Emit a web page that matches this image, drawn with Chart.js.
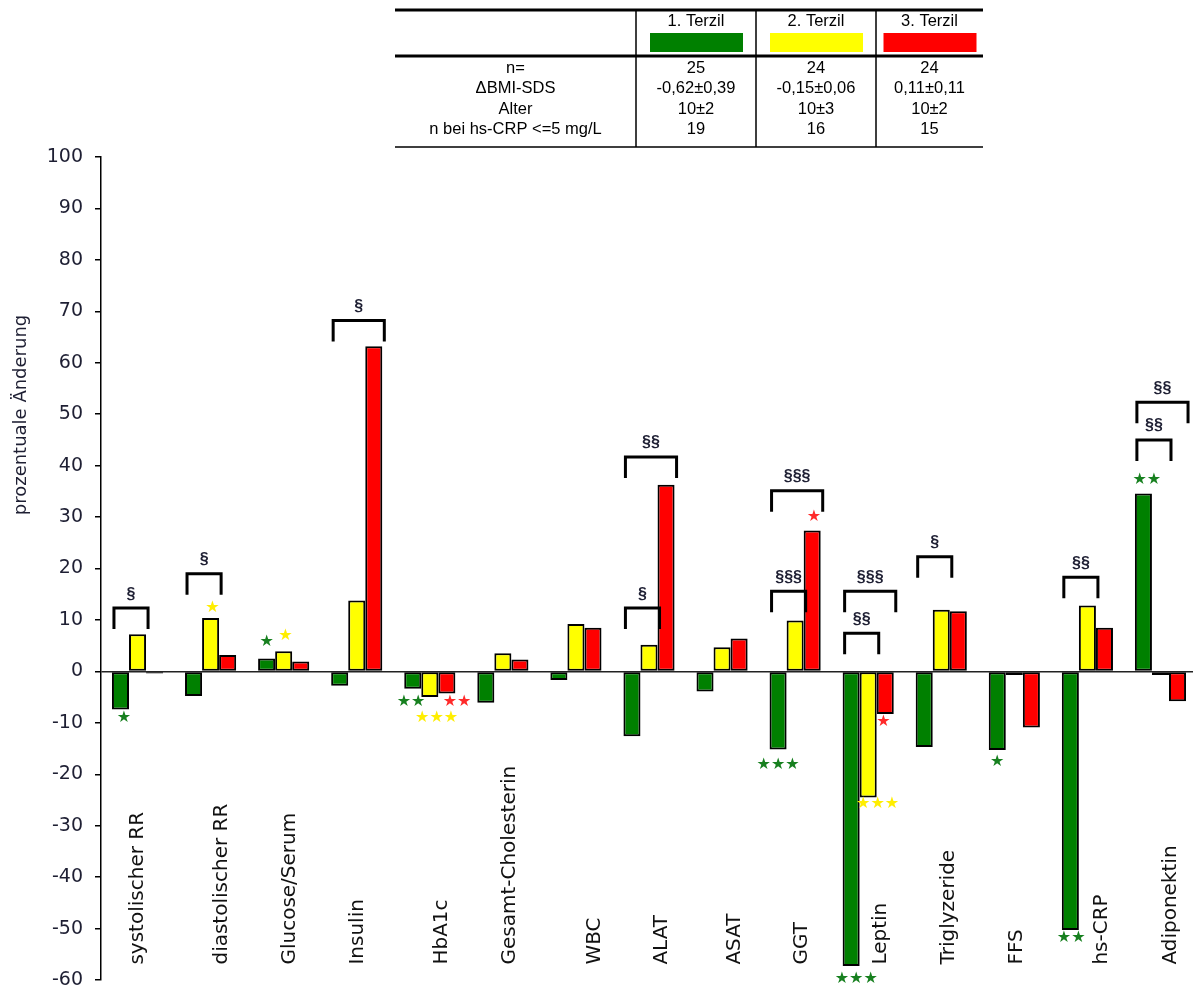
<!DOCTYPE html>
<html>
<head>
<meta charset="utf-8">
<script src="https://cdn.jsdelivr.net/npm/chart.js@4"></script>
<style>
  html, body { margin: 0; padding: 0; background: #fff; overflow: hidden; }
  #wrap { position: absolute; left: 0; top: 0; width: 1200px; height: 992px; }
</style>
</head>
<body>
<div id="wrap"><canvas id="myChart" width="1200" height="992"></canvas></div>
<script>
// Parameters shown on the x axis
const labels = ["systolischer RR", "diastolischer RR", "Glucose/Serum", "Insulin", "HbA1c",
  "Gesamt-Cholesterin", "WBC", "ALAT", "ASAT", "GGT", "Leptin", "Triglyzeride", "FFS",
  "hs-CRP", "Adiponektin"];

// percent change per tertile
const tertile1 = [-7.4, -4.8, 2.5, -2.8, -3.4, -6.1, -1.7, -12.6, -3.9, -15.2, -57.3, -14.7, -15.3, -50.3, 34.6];
const tertile2 = [7.2, 10.4, 3.9, 13.8, -5.0, 3.5, 9.2, 5.2, 4.7, 9.9, -24.5, 12.0, -0.7, 12.8, -0.7];
const tertile3 = [-0.4, 3.2, 1.9, 63.2, -4.3, 2.3, 8.5, 36.3, 6.4, 27.4, -8.3, 11.7, -10.9, 8.5, -5.8];

const seriesNames = ["1. Terzil", "2. Terzil", "3. Terzil"];
const yTicks = [100, 90, 80, 70, 60, 50, 40, 30, 20, 10, 0, -10, -20, -30, -40, -50, -60];

// table above the chart
const tableRows = [
  ["n=", "25", "24", "24"],
  ["\u0394BMI-SDS", "-0,62\u00b10,39", "-0,15\u00b10,06", "0,11\u00b10,11"],
  ["Alter", "10\u00b12", "10\u00b13", "10\u00b12"],
  ["n bei hs-CRP <=5 mg/L", "19", "16", "15"]
];

// significance between tertiles: [category, from series, to series, bracket top value, text]
const brackets = [
  [0, 0, 1, 12.3, "\u00a7"],
  [1, 0, 1, 19.0, "\u00a7"],
  [3, 0, 2, 68.2, "\u00a7"],
  [7, 0, 1, 12.3, "\u00a7"],
  [7, 0, 2, 41.7, "\u00a7\u00a7"],
  [9, 0, 1, 15.6, "\u00a7\u00a7\u00a7"],
  [9, 0, 2, 35.1, "\u00a7\u00a7\u00a7"],
  [10, 0, 1, 7.4, "\u00a7\u00a7"],
  [10, 0, 2, 15.6, "\u00a7\u00a7\u00a7"],
  [11, 0, 1, 22.3, "\u00a7"],
  [13, 0, 1, 18.3, "\u00a7\u00a7"],
  [14, 0, 1, 45.0, "\u00a7\u00a7"],
  [14, 0, 2, 52.3, "\u00a7\u00a7"]
];

// significance vs. baseline: [category, series, slot, value, stars]
const stars = [
  [0, 0, 0.2, -9.1, 1],
  [1, 1, 1.1, 12.3, 1],
  [2, 0, 0.0, 5.7, 1],
  [2, 1, 1.1, 7.0, 1],
  [4, 0, -0.1, -6.0, 2],
  [4, 1, 1.4, -9.1, 3],
  [4, 2, 2.6, -6.0, 2],
  [9, 0, 0.0, -18.1, 3],
  [9, 2, 2.1, 30.0, 1],
  [10, 0, 0.3, -59.8, 3],
  [10, 1, 1.55, -25.8, 3],
  [10, 2, 1.9, -9.9, 1],
  [12, 0, 0.0, -17.5, 1],
  [13, 0, 0.05, -51.8, 2],
  [14, 0, 0.2, 37.3, 2]
];

const barColors = ["#008000", "#ffff00", "#ff0000"];
const starColors = ["#17801f", "#ffee00", "#ff2a2a"];
// small nudges for the rotated category names (px)
const labelShift = [0, 11, 6, 1, 12, 7, 19, 13, 13, 7, 13, 8, 2, 14, 10];

const textColor = "#1e1f33";

// Draws the table, brackets, stars and the rotated category names
const extras = {
  id: "extras",
  afterDraw(chart) {
    const ctx = chart.ctx;
    const x = chart.scales.x;
    const y = chart.scales.y;
    const catW = x.getPixelForValue(1) - x.getPixelForValue(0);
    const barW = catW * 0.7 / 3;
    const slotX = (cat, slot) => x.getPixelForValue(cat) + (slot - 1) * barW;

    ctx.save();

    // y axis title
    ctx.save();
    ctx.translate(21, 415);
    ctx.rotate(-Math.PI / 2);
    ctx.font = "18px 'DejaVu Sans'";
    ctx.fillStyle = textColor;
    ctx.textAlign = "center";
    ctx.textBaseline = "middle";
    ctx.fillText("prozentuale \u00c4nderung", 0, 0);
    ctx.restore();

    // category names, rotated, bottom aligned
    const yBottom = y.getPixelForValue(-57);
    ctx.font = "20px 'DejaVu Sans'";
    ctx.fillStyle = "#111";
    labels.forEach((lab, i) => {
      ctx.save();
      ctx.translate(x.getPixelForValue(i) + labelShift[i], yBottom);
      ctx.rotate(-Math.PI / 2);
      ctx.textAlign = "left";
      ctx.textBaseline = "middle";
      ctx.fillText(lab, 0, 0);
      ctx.restore();
    });

    // brackets with § marks
    ctx.strokeStyle = "#000";
    ctx.lineWidth = 3;
    ctx.font = "bold 16px 'Liberation Sans'";
    ctx.fillStyle = textColor;
    ctx.textAlign = "center";
    ctx.textBaseline = "middle";
    brackets.forEach(([cat, a, b, top, txt]) => {
      const left = slotX(cat, a) - barW / 2 + 2;
      const right = slotX(cat, b) + barW / 2 + 2;
      const ty = y.getPixelForValue(top);
      ctx.beginPath();
      ctx.moveTo(left, ty + 21);
      ctx.lineTo(left, ty);
      ctx.lineTo(right, ty);
      ctx.lineTo(right, ty + 21);
      ctx.stroke();
      ctx.fillText(txt, (left + right) / 2, ty - 14);
    });

    // stars
    ctx.font = "16px 'DejaVu Sans'";
    stars.forEach(([cat, s, slot, val, n]) => {
      ctx.fillStyle = starColors[s];
      ctx.fillText("\u2605".repeat(n), slotX(cat, slot), y.getPixelForValue(val));
    });

    // table
    const tl = 395, tr = 983;
    const cols = [636, 756, 876];
    const colMid = [515.5, 696, 816, 929.5];
    ctx.strokeStyle = "#000";
    ctx.lineWidth = 3;
    ctx.beginPath();
    ctx.moveTo(tl, 10); ctx.lineTo(tr, 10);
    ctx.moveTo(tl, 56); ctx.lineTo(tr, 56);
    ctx.stroke();
    ctx.lineWidth = 1.5;
    ctx.beginPath();
    ctx.moveTo(tl, 147); ctx.lineTo(tr, 147);
    cols.forEach(c => { ctx.moveTo(c, 10); ctx.lineTo(c, 147); });
    ctx.stroke();

    ctx.font = "16.5px 'Liberation Sans'";
    ctx.textAlign = "center";
    ctx.textBaseline = "middle";
    seriesNames.forEach((nm, i) => {
      const cx = colMid[i + 1];
      ctx.fillStyle = "#000";
      ctx.fillText(nm, cx, 21);
      ctx.fillStyle = barColors[i];
      ctx.fillRect(cx - 46, 33, 93, 19);
    });
    ctx.fillStyle = "#000";
    tableRows.forEach((row, r) => {
      row.forEach((cell, c) => {
        ctx.fillText(cell, colMid[c], 68.5 + r * 20.3);
      });
    });

    ctx.restore();
  }
};

const data = {
  labels: labels,
  datasets: [tertile1, tertile2, tertile3].map((vals, i) => ({
    label: seriesNames[i],
    data: vals,
    backgroundColor: barColors[i],
    borderColor: "#000",
    borderWidth: 2,
    borderSkipped: false,
    categoryPercentage: 0.7,
    barPercentage: 1.0
  }))
};

const config = {
  type: "bar",
  data: data,
  options: {
    responsive: false,
    animation: false,
    devicePixelRatio: 1,
    layout: { padding: { top: 157, bottom: 12, left: 0, right: 3 } },
    plugins: {
      legend: { display: false },
      tooltip: { enabled: false }
    },
    scales: {
      x: { display: false },
      y: {
        min: -60,
        max: 100,
        afterFit(scale) {
          scale.width = 101;
          // tick labels may overhang the plot area, no extra room needed
          scale.paddingTop = 0;
          scale.paddingBottom = 0;
        },
        afterBuildTicks(scale) { scale.ticks = yTicks.map(v => ({ value: v })); },
        border: { display: true, color: "#000", width: 1.5 },
        grid: {
          color: c => (c.tick && c.tick.value === 0 ? "#222" : "rgba(0,0,0,0)"),
          lineWidth: 1.5,
          tickColor: "#000",
          tickLength: 6,
          drawOnChartArea: true
        },
        ticks: {
          padding: 12,
          color: textColor,
          font: { family: "'DejaVu Sans'", size: 19 }
        }
      }
    }
  },
  plugins: [extras]
};

const theChart = new Chart(document.getElementById("myChart").getContext("2d"), config);
</script>
</body>
</html>
